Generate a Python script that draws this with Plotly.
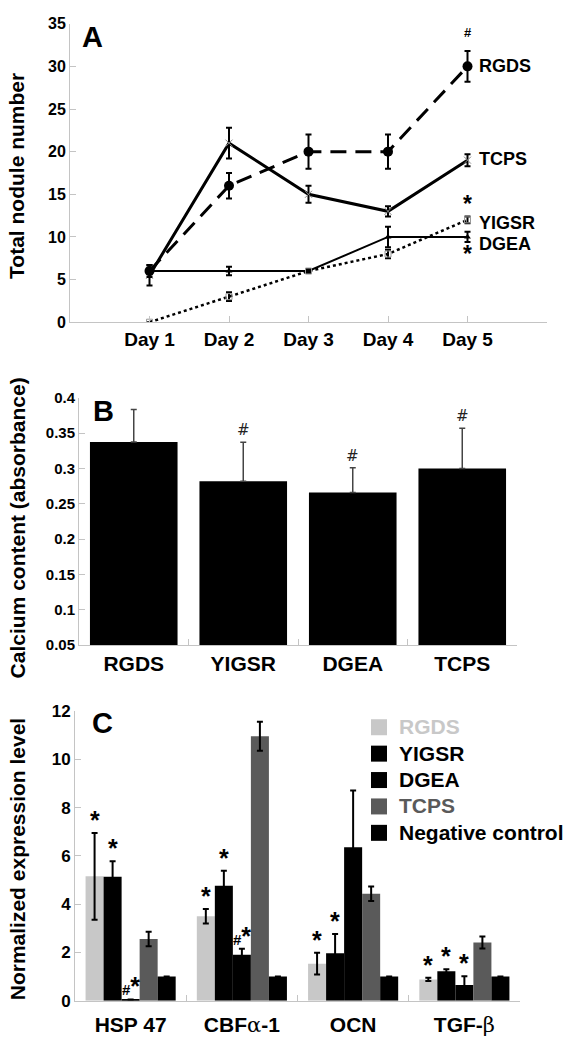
import plotly.graph_objects as go

# ---------------- Panel A data ----------------
days = ["Day 1", "Day 2", "Day 3", "Day 4", "Day 5"]
rgds_a = [6, 16, 20, 20, 30]
rgds_a_err = [0.7, 1.5, 2.0, 2.0, 1.8]
tcps_a = [5.5, 21, 15, 13, 19]
tcps_a_err = [1.2, 1.8, 1.0, 0.6, 0.7]
yigsr_a = [0, 3, 6, 8, 12]
yigsr_a_err = [0.0, 0.5, 0.2, 0.5, 0.4]
dgea_a = [6, 6, 6, 10, 10]
dgea_a_err = [0.4, 0.5, 0.2, 1.2, 0.6]

# ---------------- Panel B data ----------------
groups_b = ["RGDS", "YIGSR", "DGEA", "TCPS"]
calcium = [0.3375, 0.282, 0.266, 0.300]
calcium_err = [0.046, 0.055, 0.035, 0.057]

# ---------------- Panel C data ----------------
genes = ["HSP 47", "CBFα-1", "OCN", "TGF-β"]
gene_labels = ["HSP 47", "CBF<span style='font-family:DejaVu Serif;font-weight:normal'>α</span>-1",
               "OCN", "TGF-<span style='font-family:DejaVu Serif;font-weight:normal'>β</span>"]
series_c = ["RGDS", "YIGSR", "DGEA", "TCPS", "Negative control"]
rgds_c = [5.15, 3.5, 1.53, 0.88]
rgds_c_err = [1.8, 0.3, 0.45, 0.07]
yigsr_c = [5.13, 4.76, 1.96, 1.22]
yigsr_c_err = [0.65, 0.62, 0.8, 0.08]
dgea_c = [0.05, 1.9, 6.36, 0.65]
dgea_c_err = [0.0, 0.25, 2.35, 0.36]
tcps_c = [2.55, 10.95, 4.43, 2.41]
tcps_c_err = [0.3, 0.6, 0.3, 0.25]
neg_c = [1, 1, 1, 1]
neg_c_err = [0, 0, 0, 0]
marks_c = {  # significance marks: series index -> per-gene label
    0: ["*", "*", "*", "*"],
    1: ["*", "*", "*", "*"],
    2: ["#*", "#*", "", "*"],
}

W, H = 580, 1045
FONT = "Liberation Sans, Arial, sans-serif"
AXC = "#c4c4c4"


def px_x(p):
    return p / W


def px_y(p):
    return 1 - p / H


fig = go.Figure()

# ---------------- Panel A traces ----------------
xa = list(range(len(days)))
err_a = dict(type="data", visible=True, thickness=2, width=3, color="black")
fig.add_trace(go.Scatter(x=xa, y=tcps_a, mode="lines+markers", xaxis="x", yaxis="y",
                         line=dict(color="black", width=3),
                         marker=dict(symbol="x-thin-open", size=7, color="#888", line=dict(width=1, color="#888")),
                         error_y=dict(array=tcps_a_err, **err_a), showlegend=False))
fig.add_trace(go.Scatter(x=xa, y=dgea_a, mode="lines+markers", xaxis="x", yaxis="y",
                         line=dict(color="black", width=2),
                         marker=dict(symbol="triangle-up", size=6, color="black"),
                         error_y=dict(array=dgea_a_err, **err_a), showlegend=False))
fig.add_trace(go.Scatter(x=xa, y=yigsr_a, mode="lines+markers", xaxis="x", yaxis="y",
                         line=dict(color="black", width=2.5, dash="dot"),
                         marker=dict(symbol="square-open", size=6, color="#999"),
                         error_y=dict(array=yigsr_a_err, **err_a), showlegend=False))
fig.add_trace(go.Scatter(x=xa, y=rgds_a, mode="lines+markers", xaxis="x", yaxis="y",
                         line=dict(color="black", width=3, dash="16px,9px"),
                         marker=dict(symbol="circle", size=10, color="black"),
                         error_y=dict(array=rgds_a_err, **err_a), showlegend=False))

# ---------------- Panel B traces ----------------
fig.add_trace(go.Bar(x=groups_b, y=calcium, xaxis="x2", yaxis="y2", width=0.8,
                     marker=dict(color="black", line=dict(width=0)),
                     error_y=dict(type="data", array=calcium_err, arrayminus=[0] * len(calcium),
                                  symmetric=False, thickness=1.5, width=3, color="#444"),
                     showlegend=False))

# ---------------- Panel C traces ----------------
c_vals = [rgds_c, yigsr_c, dgea_c, tcps_c, neg_c]
c_errs = [rgds_c_err, yigsr_c_err, dgea_c_err, tcps_c_err, neg_c_err]
c_cols = ["#c8c8c8", "black", "black", "#5a5a5a", "black"]
c_txtcol = ["#c8c8c8", "black", "black", "#5a5a5a", "black"]
for name, vals, errs, col, tcol in zip(series_c, c_vals, c_errs, c_cols, c_txtcol):
    fig.add_trace(go.Bar(x=genes, y=vals, xaxis="x3", yaxis="y3", name=name,
                         marker=dict(color=col, line=dict(width=0)),
                         error_y=dict(type="data", array=errs, thickness=2, width=3, color="black"),
                         showlegend=False))
    fig.add_trace(go.Scatter(x=[None], y=[None], xaxis="x3", yaxis="y3", mode="markers",
                             name=f"<span style='color:{tcol};font-size:21px'>{name}</span>",
                             marker=dict(symbol="square", size=16, color=col),
                             showlegend=True))

annotations = []

# Panel letters
for letter, xp, yp in [("A", 80, 29), ("B", 91, 409), ("C", 90, 727)]:
    annotations.append(dict(text=f"<b>{letter}</b>", xref="paper", yref="paper", x=px_x(xp), y=px_y(yp),
                            xanchor="left", yanchor="middle", showarrow=False,
                            font=dict(size=29, family=FONT, color="black")))

# Y axis titles
for title, yp in [("Total nodule number", 170), ("Calcium content (absorbance)", 529),
                  ("Normalized expression level", 866)]:
    annotations.append(dict(text=f"<b>{title}</b>", xref="paper", yref="paper", x=px_x(17), y=px_y(yp),
                            xanchor="center", yanchor="middle", textangle=-90, showarrow=False,
                            font=dict(size=21, family=FONT, color="black")))

# Panel A series labels
last = len(days) - 1
for label, val, ys in [("RGDS", rgds_a[last], 0), ("TCPS", tcps_a[last], 1),
                       ("YIGSR", yigsr_a[last], -3), ("DGEA", dgea_a[last], -7)]:
    annotations.append(dict(text=f"<b>{label}</b>", xref="x", yref="y", x=last, y=val,
                            xanchor="left", yanchor="middle", xshift=9, yshift=ys, showarrow=False,
                            font=dict(size=18, family=FONT, color="black")))
annotations.append(dict(text="<b>#</b>", xref="x", yref="y", x=last, y=rgds_a[last] + rgds_a_err[last],
                        xanchor="center", yanchor="bottom", yshift=9, showarrow=False,
                        font=dict(size=13, family=FONT, color="black")))
annotations.append(dict(text="<b>*</b>", xref="x", yref="y", x=last, y=yigsr_a[last] + yigsr_a_err[last],
                        xanchor="center", yanchor="bottom", yshift=-3, showarrow=False,
                        font=dict(size=23, family=FONT, color="black")))
annotations.append(dict(text="<b>*</b>", xref="x", yref="y", x=last, y=dgea_a[last] - dgea_a_err[last],
                        xanchor="center", yanchor="top", yshift=3, showarrow=False,
                        font=dict(size=23, family=FONT, color="black")))

# Panel B marks
for i in range(1, len(groups_b)):
    annotations.append(dict(text="#", xref="x2", yref="y2", x=i, y=calcium[i] + calcium_err[i],
                            xanchor="center", yanchor="bottom", yshift=1, showarrow=False,
                            font=dict(size=15, family="DejaVu Sans, sans-serif", color="#222")))

# Panel C marks
group_w = 0.81
bw = group_w / len(series_c)
for si, labels in marks_c.items():
    for gi, lab in enumerate(labels):
        if not lab:
            continue
        xpos = gi - group_w / 2 + bw * (si + 0.5)
        top = c_vals[si][gi] + c_errs[si][gi]
        txt = "<b>*</b>" if lab == "*" else "<b><span style='font-size:15px'>#</span>*</b>"
        annotations.append(dict(text=txt, xref="x3", yref="y3", x=xpos, y=top,
                                xanchor="center", yanchor="bottom", yshift=-3, showarrow=False,
                                font=dict(size=25, family=FONT, color="black")))

axis_common = dict(showline=True, linecolor=AXC, linewidth=1, ticks="inside", tickcolor=AXC,
                   ticklen=6, showgrid=False, zeroline=False)


def tf(size):
    return dict(family=FONT, size=size, color="black", weight="bold")


fig.update_layout(
    width=W, height=H,
    margin=dict(l=0, r=0, t=0, b=0),
    paper_bgcolor="white", plot_bgcolor="white",
    barmode="group", bargap=0.19, bargroupgap=0,
    font=dict(family=FONT, color="black"),
    xaxis=dict(domain=[px_x(70), px_x(547)], anchor="y", range=[-1, 5], tickmode="array",
               tickvals=xa, ticktext=days, tickfont=tf(19), **axis_common),
    yaxis=dict(domain=[px_y(319), px_y(15)], anchor="x", range=[0, 35], dtick=5,
               tickfont=tf(16), **axis_common),
    xaxis2=dict(domain=[px_x(79), px_x(517)], anchor="y2", type="category", range=[-0.5, 3.5],
                tickson="boundaries", tickfont=tf(21), **axis_common),
    yaxis2=dict(domain=[px_y(648), px_y(396)], anchor="x2", range=[0.05, 0.4], dtick=0.05,
                tickformat="~g", tickfont=tf(15), **axis_common),
    xaxis3=dict(domain=[px_x(75), px_x(520)], anchor="y3", type="category", range=[-0.5, 3.5],
                tickmode="array", tickvals=genes, ticktext=gene_labels, ticklabelstandoff=5,
                tickson="boundaries", tickfont=tf(21), **axis_common),
    yaxis3=dict(domain=[px_y(1010), px_y(715)], anchor="x3", range=[0, 12], dtick=2,
                tickfont=tf(17), **axis_common),
    legend=dict(x=px_x(359), y=px_y(713), xanchor="left", yanchor="top", bgcolor="rgba(0,0,0,0)",
                font=tf(18), itemsizing="trace", tracegroupgap=0),
    annotations=annotations,
)

fig.write_html("out.html", config={"displayModeBar": False},
               post_script="document.body.style.margin='0';")
